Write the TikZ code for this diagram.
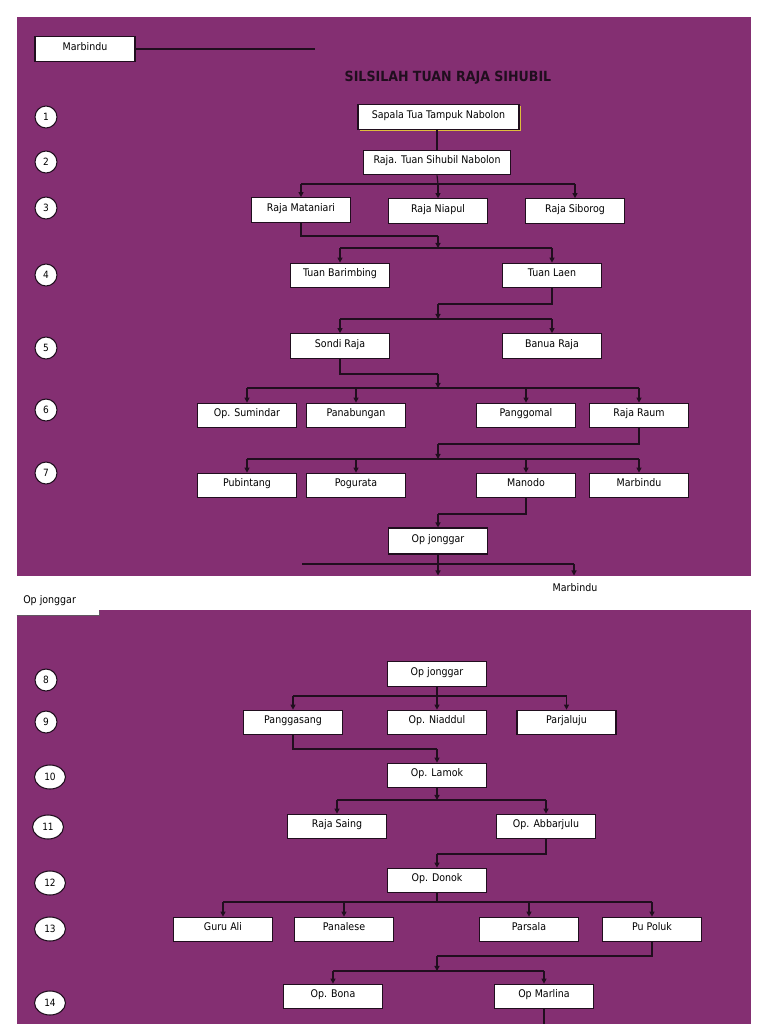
\documentclass[tikz,border=0pt]{standalone}
\usepackage{fontspec}
\setmainfont{DejaVu Sans}[FakeStretch=0.9]
\usetikzlibrary{arrows.meta,shapes.geometric,shadows}
\definecolor{panel}{RGB}{132,47,114}
\definecolor{ink}{RGB}{32,14,30}
\definecolor{shadowyel}{RGB}{222,190,60}
\begin{document}
\begin{tikzpicture}[x=0.75pt,y=-0.75pt,
  box/.style={draw=ink, fill=white, line width=0.8pt, minimum width=74.25pt, minimum height=18.5pt,
    inner sep=0pt, text height=6pt, text depth=4pt, font=\fontsize{7.9}{9}\selectfont},
  num/.style={draw=ink, fill=white, line width=0.8pt, circle, minimum size=16.5pt, inner sep=0pt,
    font=\fontsize{7.5}{9}\selectfont},
  numw/.style={num, ellipse, minimum width=23.25pt, minimum height=18pt},
  ln/.style={draw=ink, line width=0.9pt},
  arr/.style={ln, -{Triangle[length=3.8pt,width=3.8pt]}},
  lbl/.style={inner sep=0pt, font=\fontsize{7.9}{9}\selectfont}
]
\useasboundingbox (0,0) rectangle (768,1024);
\fill[white] (0,0) rectangle (768,1024);
% panels
\fill[panel] (17,17) rectangle (751,576);
\fill[panel] (17,610) rectangle (751,1024);

% ---------- panel 1 ----------
\node[box, minimum width=75pt] (mb) at (85,49) {Marbindu};
\coordinate (mbend) at (315,49);
\draw[ln] (mb.east) -- (mbend);
\node[font=\bfseries\fontsize{10.5}{12}\selectfont, text=ink, inner sep=0pt] (title) at (448,78) {SILSILAH TUAN RAJA SIHUBIL};

% number circles
\node[num] (c1) at (46,117) {1};
\node[num] (c2) at (46,162) {2};
\node[num] (c3) at (46,208) {3};
\node[num] (c4) at (46,275) {4};
\node[num] (c5) at (46,348) {5};
\node[num] (c6) at (46,410) {6};
\node[num] (c7) at (46,473) {7};
\node[num] (c8) at (46,680) {8};
\node[num] (c9) at (46,722) {9};
\node[numw] (c10) at (50,777) {10};
\node[numw] (c11) at (48,827) {11};
\node[numw] (c12) at (50,883) {12};
\node[numw] (c13) at (50,929) {13};
\node[numw] (c14) at (50,1003) {14};

% generation 1-2
\node[box, minimum width=120.75pt, general shadow={fill=shadowyel, shadow xshift=1.2pt, shadow yshift=-1.2pt}] (sapala) at (438.5,117) {Sapala Tua Tampuk Nabolon};
\node[box, minimum width=110.25pt] (tsn) at (437,162.5) {Raja. Tuan Sihubil Nabolon};
\draw[ln] (sapala.south -| tsn) -- (tsn.north);

% generation 3
\node[box] (rm) at (301,210) {Raja Mataniari};
\node[box] (rn) at (438,211) {Raja Niapul};
\node[box] (rs) at (575,211) {Raja Siborog};
\coordinate (j3) at (438,184);
\draw[ln] (tsn.south) -- (j3);
\draw[ln] (j3 -| rm) -- (j3 -| rs);
\draw[arr] (j3 -| rm) -- (rm.north);
\draw[arr] (j3) -- (rn.north);
\draw[arr] (j3 -| rs) -- (rs.north);

% generation 4
\node[box] (tb) at (340,275.5) {Tuan Barimbing};
\node[box] (tl) at (552,275.5) {Tuan Laen};
\coordinate (k4) at (438,236);
\coordinate (j4) at (438,248);
\draw[ln] (rm.south) |- (k4);
\draw[arr] (k4) -- (j4);
\draw[ln] (j4 -| tb) -- (j4 -| tl);
\draw[arr] (j4 -| tb) -- (tb.north);
\draw[arr] (j4 -| tl) -- (tl.north);

% generation 5
\node[box] (sr) at (340,346) {Sondi Raja};
\node[box] (br) at (552,346) {Banua Raja};
\coordinate (k5) at (438,304);
\coordinate (j5) at (438,319);
\draw[ln] (tl.south) |- (k5);
\draw[arr] (k5) -- (j5);
\draw[ln] (j5 -| sr) -- (j5 -| br);
\draw[arr] (j5 -| sr) -- (sr.north);
\draw[arr] (j5 -| br) -- (br.north);

% generation 6
\node[box] (os) at (247,415.5) {Op. Sumindar};
\node[box] (pb) at (356,415.5) {Panabungan};
\node[box] (pg) at (526,415.5) {Panggomal};
\node[box] (rr) at (639,415.5) {Raja Raum};
\coordinate (k6) at (438,374);
\coordinate (j6) at (438,388);
\draw[ln] (sr.south) |- (k6);
\draw[arr] (k6) -- (j6);
\draw[ln] (j6 -| os) -- (j6 -| rr);
\foreach \n in {os,pb,pg,rr} \draw[arr] (j6 -| \n) -- (\n.north);

% generation 7
\node[box] (pu) at (247,485.5) {Pubintang};
\node[box] (po) at (356,485.5) {Pogurata};
\node[box] (ma) at (526,485.5) {Manodo};
\node[box] (mr) at (639,485.5) {Marbindu};
\coordinate (k7) at (438,444);
\coordinate (j7) at (438,459);
\draw[ln] (rr.south) |- (k7);
\draw[arr] (k7) -- (j7);
\draw[ln] (j7 -| pu) -- (j7 -| mr);
\foreach \n in {pu,po,ma,mr} \draw[arr] (j7 -| \n) -- (\n.north);

% Op jonggar (panel 1)
\node[box, minimum height=19.5pt] (oj1) at (438,541) {Op jonggar};
\coordinate (k8) at (438,514);
\draw[ln] (ma.south) |- (k8);
\draw[arr] (k8) -- (oj1.north);
\coordinate (j8l) at (302,564);
\coordinate (j8r) at (574,564);
\coordinate (e8a) at (438,575.5);
\coordinate (e8b) at (574,575.5);
\draw[ln] (j8l) -- (j8r);
\draw[arr] (oj1.south) -- (e8a);
\draw[arr] (j8r) -- (e8b);

% between panels
\node[lbl] (mbtext) at (575,588) {Marbindu};
\node[fill=white, minimum width=61.5pt, minimum height=20pt, inner sep=0pt] (ojtag) at (58,601.5) {};
\node[lbl, anchor=west] (ojtext) at (23,601) {Op jonggar};
\draw[ink!70, line width=0.8pt] (ojtag.south west) -- (ojtag.south east) -- ++(0,-4);

% ---------- panel 2 ----------
\node[box] (oj2) at (437,674) {Op jonggar};
\node[box] (pgs) at (293,722.5) {Panggasang};
\node[box] (oni) at (437,722.5) {Op. Niaddul};
\node[box] (pjl) at (566.5,722.5) {Parjaluju};
\coordinate (j9) at (437,696);
\draw[ln] (oj2.south) -- (j9);
\draw[ln] (j9 -| pgs) -- (j9 -| pjl);
\foreach \n in {pgs,oni,pjl} \draw[arr] (j9 -| \n) -- (\n.north);

% generation 10
\node[box] (ol) at (437,775.5) {Op. Lamok};
\coordinate (k10) at (437,749);
\draw[ln] (pgs.south) |- (k10);
\draw[arr] (k10) -- (ol.north);

% generation 11
\node[box] (rsa) at (337,826.5) {Raja Saing};
\node[box] (oab) at (546,826.5) {Op. Abbarjulu};
\coordinate (j11) at (437,800);
\draw[arr] (ol.south) -- (j11);
\draw[ln] (j11 -| rsa) -- (j11 -| oab);
\draw[arr] (j11 -| rsa) -- (rsa.north);
\draw[arr] (j11 -| oab) -- (oab.north);

% generation 12
\node[box] (od) at (437,880.5) {Op. Donok};
\coordinate (k12) at (437,854);
\draw[ln] (oab.south) |- (k12);
\draw[arr] (k12) -- (od.north);

% generation 13
\node[box] (ga) at (223,929.5) {Guru Ali};
\node[box] (pl) at (344,929.5) {Panalese};
\node[box] (ps) at (529,929.5) {Parsala};
\node[box] (pp) at (652,929.5) {Pu Poluk};
\coordinate (j13) at (437,902);
\draw[ln] (od.south) -- (j13);
\draw[ln] (j13 -| ga) -- (j13 -| pp);
\foreach \n in {ga,pl,ps,pp} \draw[arr] (j13 -| \n) -- (\n.north);

% generation 14
\node[box] (ob) at (333,996.5) {Op. Bona};
\node[box] (om) at (544,996.5) {Op Marlina};
\coordinate (k14) at (437,956);
\coordinate (j14) at (437,971);
\draw[ln] (pp.south) |- (k14);
\draw[arr] (k14) -- (j14);
\draw[ln] (j14 -| ob) -- (j14 -| om);
\draw[arr] (j14 -| ob) -- (ob.north);
\draw[arr] (j14 -| om) -- (om.north);
\coordinate (e15) at (544,1024);
\draw[ln] (om.south) -- (e15);
\end{tikzpicture}
\end{document}
